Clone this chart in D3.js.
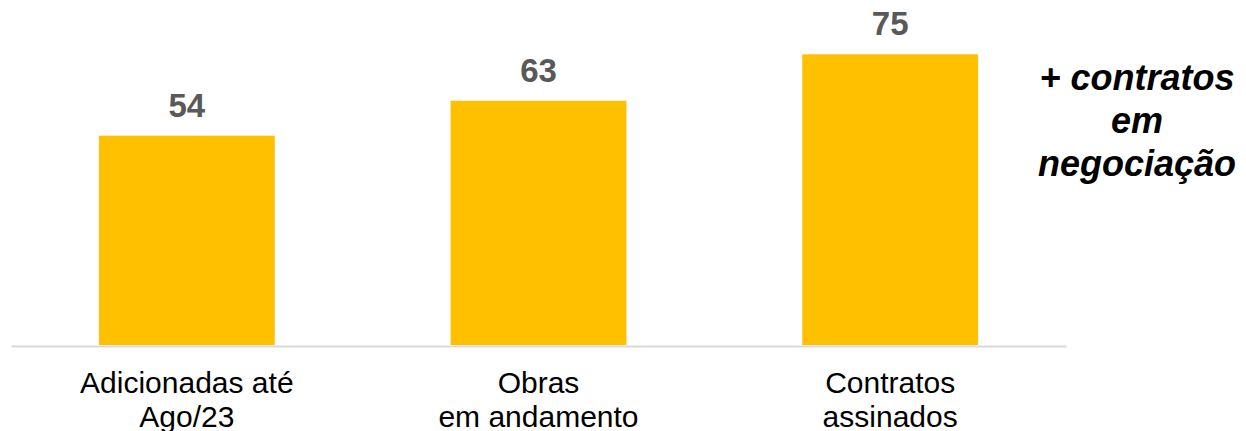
<!DOCTYPE html>
<html>
<head>
<meta charset="utf-8">
<script src="https://cdn.jsdelivr.net/npm/d3@7"></script>
<style>
  html, body { margin: 0; padding: 0; background: #fff; }
  svg { display: block; font-family: "Liberation Sans", Arial, sans-serif; }
</style>
</head>
<body>
<svg id="chart" width="1246" height="431"></svg>
<script>
// Categories (each entry holds the lines of its label) and values
const categories = [
  ["Adicionadas até", "Ago/23"],
  ["Obras", "em andamento"],
  ["Contratos", "assinados"]
];
const values = [54, 63, 75];
const noteLines = ["+ contratos", "em", "negociação"];

const svg = d3.select("#chart");
const left = 11, right = 1066, baseline = 345;

const x = d3.scaleBand()
  .domain(d3.range(categories.length))
  .range([left, right])
  .paddingInner(0.5)
  .paddingOuter(0.25);

const y = d3.scaleLinear().domain([0, 89]).range([baseline, 0]);

// Bars
svg.append("g").selectAll("rect")
  .data(values)
  .join("rect")
  .attr("x", (d, i) => x(i))
  .attr("width", x.bandwidth())
  .attr("y", d => y(d))
  .attr("height", d => baseline - y(d))
  .attr("fill", "#FFC000");

// Baseline axis
const axis = d3.axisBottom(x).tickSize(0).tickFormat("");
const gAxis = svg.append("g").attr("transform", `translate(0,${baseline + 1})`).call(axis);
gAxis.select(".domain").attr("stroke", "#d9d9d9").attr("stroke-width", 2);

// Value labels
svg.append("g").selectAll("text")
  .data(values)
  .join("text")
  .attr("x", (d, i) => x(i) + x.bandwidth() / 2)
  .attr("y", d => y(d) - 19)
  .attr("text-anchor", "middle")
  .attr("font-size", 33)
  .attr("font-weight", "bold")
  .attr("fill", "#595959")
  .text(d => d);

// Category labels
const cat = svg.append("g").selectAll("text")
  .data(categories)
  .join("text")
  .attr("x", (d, i) => x(i) + x.bandwidth() / 2)
  .attr("y", 393)
  .attr("text-anchor", "middle")
  .attr("font-size", 30)
  .attr("fill", "#000");
cat.selectAll("tspan")
  .data(d => d)
  .join("tspan")
  .attr("x", function () { return d3.select(this.parentNode).attr("x"); })
  .attr("dy", (d, i) => i === 0 ? 0 : 34)
  .text(d => d);

// Side note
svg.append("text")
  .attr("x", 1137)
  .attr("y", 90)
  .attr("text-anchor", "middle")
  .attr("font-size", 36)
  .attr("font-weight", "bold")
  .attr("font-style", "italic")
  .attr("fill", "#000")
  .selectAll("tspan")
  .data(noteLines)
  .join("tspan")
  .attr("x", 1137)
  .attr("dy", (d, i) => i === 0 ? 0 : 43)
  .text(d => d);
</script>
</body>
</html>
